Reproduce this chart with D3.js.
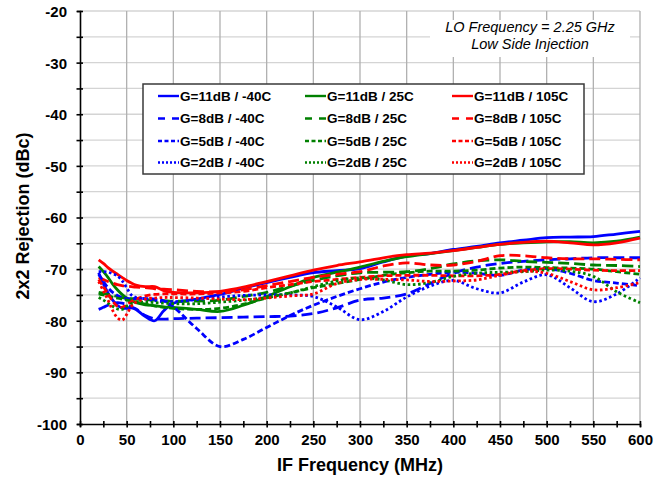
<!DOCTYPE html>
<html><head><meta charset="utf-8">
<script src="https://cdn.jsdelivr.net/npm/d3@7"></script>
<style>
body{margin:0;background:#fff;}
text{font-family:"Liberation Sans",Arial,sans-serif;}
</style>
</head><body>
<svg id="chart" width="668" height="481"></svg>
<script>
// ---- data ----
const freqs = [20,25,30,35,40,45,50,55,60,70,80,90,100,125,150,175,200,225,250,275,300,325,350,375,400,425,450,475,500,525,550,575,600];

const g11_m40 = [-70.7,-72.8,-74.6,-76.0,-77.0,-77.5,-77.6,-77.5,-77.8,-79.2,-80.0,-78.0,-76.6,-75.8,-74.9,-73.7,-72.6,-71.6,-70.7,-70.3,-69.9,-68.6,-67.5,-67.0,-66.2,-65.6,-64.9,-64.4,-63.9,-63.8,-63.7,-63.2,-62.7];
const g11_25  = [-69.5,-70.5,-71.6,-72.9,-74.0,-74.9,-75.6,-76.1,-76.5,-76.9,-77.1,-77.3,-77.4,-77.8,-78.2,-77.0,-75.3,-73.4,-71.6,-70.6,-69.6,-68.5,-67.6,-67.0,-66.4,-65.8,-65.2,-64.9,-64.7,-64.7,-64.9,-64.6,-63.8];
const g11_105 = [-68.2,-68.9,-69.7,-70.4,-71.0,-71.6,-72.2,-72.7,-73.1,-73.4,-73.4,-74.2,-74.5,-74.6,-74.3,-73.5,-72.4,-71.3,-70.2,-69.3,-68.6,-67.8,-67.2,-66.9,-66.4,-65.8,-65.2,-64.8,-64.6,-64.9,-65.3,-64.9,-64.0];
const g8_m40  = [-77.8,-77.4,-77.0,-76.7,-76.5,-76.6,-76.9,-77.3,-77.7,-79.0,-79.6,-79.7,-79.6,-79.5,-79.4,-79.3,-79.2,-79.1,-78.6,-77.5,-76.0,-75.6,-74.8,-72.8,-70.8,-69.6,-68.9,-68.5,-68.2,-68.0,-67.8,-67.8,-67.8];
const g8_25   = [-74.5,-74.7,-74.9,-75.1,-75.3,-75.5,-75.6,-75.7,-75.8,-75.9,-76.0,-76.1,-76.2,-76.2,-76.0,-75.3,-74.5,-73.3,-72.2,-71.3,-70.7,-70.6,-70.5,-69.9,-69.0,-68.4,-68.2,-68.5,-68.7,-68.9,-69.2,-69.3,-69.5];
const g8_105  = [-71.6,-72.0,-72.4,-72.7,-73.0,-73.2,-73.3,-73.4,-73.5,-73.6,-73.8,-73.9,-74.0,-74.3,-74.4,-74.0,-73.2,-72.4,-71.6,-71.0,-70.5,-69.4,-68.8,-69.2,-69.2,-68.5,-67.4,-67.4,-67.8,-68.0,-68.0,-68.1,-68.2];
const g5_m40  = [-71.0,-72.4,-73.6,-74.5,-75.1,-75.5,-75.7,-75.7,-75.7,-75.7,-75.8,-76.2,-77.3,-81.5,-85.0,-83.6,-81.3,-79.0,-77.0,-75.3,-73.8,-72.5,-71.6,-71.0,-70.6,-70.8,-71.2,-70.2,-69.9,-70.8,-72.2,-72.7,-73.2];
const g5_25   = [-74.8,-75.0,-75.2,-75.4,-75.6,-75.8,-76.0,-76.2,-76.4,-76.8,-77.1,-77.4,-77.6,-77.8,-77.6,-76.8,-75.6,-74.6,-73.6,-72.8,-72.0,-71.2,-70.7,-70.4,-70.4,-70.2,-69.8,-69.6,-69.7,-69.8,-70.0,-70.5,-71.0];
const g5_105  = [-72.0,-73.4,-74.8,-76.2,-77.2,-77.4,-76.9,-76.3,-75.8,-75.2,-74.9,-74.8,-74.8,-74.8,-74.6,-74.3,-73.6,-73.0,-72.4,-72.0,-71.6,-71.3,-71.2,-71.2,-71.3,-71.3,-71.0,-70.3,-69.9,-70.0,-70.2,-70.3,-70.3];
const g2_m40  = [-70.5,-70.5,-70.6,-70.9,-71.3,-72.2,-73.6,-75.0,-75.5,-75.8,-76.1,-76.3,-76.3,-75.9,-75.4,-75.1,-75.0,-75.0,-75.3,-77.3,-79.8,-78.2,-75.4,-73.3,-72.2,-73.8,-74.6,-72.5,-71.1,-73.6,-76.3,-74.8,-71.7];
const g2_25   = [-75.5,-76.0,-76.6,-77.2,-77.7,-77.8,-77.2,-76.7,-76.4,-76.4,-76.5,-76.6,-76.7,-76.7,-76.4,-76.0,-75.5,-74.6,-73.4,-72.3,-71.7,-72.1,-73.0,-72.6,-71.4,-70.8,-70.6,-70.5,-70.2,-70.4,-71.4,-74.4,-76.5];
const g2_105  = [-72.4,-74.2,-76.0,-78.0,-79.4,-79.9,-78.8,-77.2,-76.4,-75.8,-75.6,-75.5,-75.5,-75.6,-75.8,-75.9,-75.6,-75.2,-74.8,-72.8,-72.0,-72.0,-72.1,-72.4,-72.3,-72.1,-71.2,-70.4,-70.8,-72.4,-74.0,-73.6,-72.6];

const xTickValues = [0,50,100,150,200,250,300,350,400,450,500,550,600];
const yTickValues = [-100,-90,-80,-70,-60,-50,-40,-30,-20];
const gains = ["11dB","8dB","5dB","2dB"];
const temps = ["-40C","25C","105C"];
const tempColors = ["#0000ff","#008000","#ff0000"];
const seriesValues = [
  [g11_m40, g11_25, g11_105],
  [g8_m40,  g8_25,  g8_105],
  [g5_m40,  g5_25,  g5_105],
  [g2_m40,  g2_25,  g2_105]
];
const plotDash   = [null, "11,5", "6,3", "2.6,2.6"];
const legendDash = [null, "7,7", "4,2.5", "2,2"];

// ---- chart ----
const svg = d3.select("#chart");
const L = 80, R = 640, T = 11, B = 424;
const x = d3.scaleLinear().domain([0,600]).range([L,R]);
const y = d3.scaleLinear().domain([-100,-20]).range([B,T]);

// gridlines
svg.append("g").selectAll("line").data(d3.range(-95,-19,5)).join("line")
  .attr("x1",L).attr("x2",R).attr("y1",d=>y(d)).attr("y2",d=>y(d))
  .attr("stroke","#d4d4d4").attr("stroke-width",1.3);
svg.append("g").selectAll("line").data(d3.range(50,601,50)).join("line")
  .attr("x1",d=>x(d)).attr("x2",d=>x(d)).attr("y1",T).attr("y2",B)
  .attr("stroke","#b0b0b0").attr("stroke-width",1.3);

// annotation background
svg.append("rect").attr("x",430).attr("y",20).attr("width",200).attr("height",37).attr("fill","#fff");
const ann = svg.append("g").attr("font-size","14.5px").attr("font-style","italic").attr("text-anchor","middle").attr("fill","#000");
ann.append("text").attr("x",530).attr("y",31.5).text("LO Frequency = 2.25 GHz");
ann.append("text").attr("x",530).attr("y",48.5).text("Low Side Injection");

// lines
const line = d3.line().x((d,i)=>x(freqs[i])).y(d=>y(d)).curve(d3.curveCatmullRom.alpha(0.5));
const plotG = svg.append("g");
seriesValues.forEach((row,gi)=>{
  row.forEach((vals,ti)=>{
    plotG.append("path").datum(vals)
      .attr("d",line).attr("fill","none")
      .attr("stroke",tempColors[ti]).attr("stroke-width",2.8)
      .attr("stroke-dasharray",plotDash[gi]);
  });
});

// axes
const yAxis = d3.axisLeft(y).tickValues(d3.range(-100,-19,5)).tickSize(3)
  .tickFormat(d=> d%10===0 ? d : "");
const gy = svg.append("g").attr("transform",`translate(${L},0)`).call(yAxis);
gy.select(".domain").attr("stroke","#000").attr("stroke-width",1.6);
gy.selectAll(".tick line").attr("x1",3).attr("x2",-3.5).attr("stroke-width",1.6);
gy.selectAll(".tick text").attr("x",-13).attr("dy","0.36em")
  .attr("font-size","15px").attr("font-weight","bold").attr("font-family","Liberation Sans, Arial, sans-serif").attr("fill","#000");

const xAxis = d3.axisBottom(x).tickValues(d3.range(0,601,25)).tickSize(3)
  .tickFormat(d=> d%50===0 ? d : "");
const gx = svg.append("g").attr("transform",`translate(0,${B})`).call(xAxis);
gx.select(".domain").attr("stroke","#000").attr("stroke-width",1.6);
gx.selectAll(".tick line").attr("y1",-3).attr("y2",3.5).attr("stroke-width",1.6);
gx.selectAll(".tick text").attr("y",10).attr("dy","0.71em")
  .attr("font-size","15px").attr("font-weight","bold").attr("font-family","Liberation Sans, Arial, sans-serif").attr("fill","#000");

// axis titles
svg.append("text").attr("x",360).attr("y",471).attr("text-anchor","middle")
  .attr("font-size","18px").attr("font-weight","bold").text("IF Frequency (MHz)");
svg.append("text").attr("transform","translate(29,216) rotate(-90)").attr("text-anchor","middle")
  .attr("font-size","18px").attr("font-weight","bold").text("2x2 Rejection (dBc)");

// legend
const lg = svg.append("g");
lg.append("rect").attr("x",143).attr("y",84).attr("width",441).attr("height",90)
  .attr("fill","#fff").attr("stroke","#3a3a3a").attr("stroke-width",1.5);
const colX = [158,305,452];
const rowY = [96,118.5,141,162.5];
gains.forEach((g,gi)=>{
  temps.forEach((t,ti)=>{
    lg.append("line").attr("x1",colX[ti]).attr("x2",colX[ti]+21).attr("y1",rowY[gi]).attr("y2",rowY[gi])
      .attr("stroke",tempColors[ti]).attr("stroke-width",2.4).attr("stroke-dasharray",legendDash[gi]);
    lg.append("text").attr("x",colX[ti]+22).attr("y",rowY[gi]+4.8)
      .attr("font-size","13.5px").attr("font-weight","bold").text(`G=${g} / ${t}`);
  });
});
</script>
</body></html>
